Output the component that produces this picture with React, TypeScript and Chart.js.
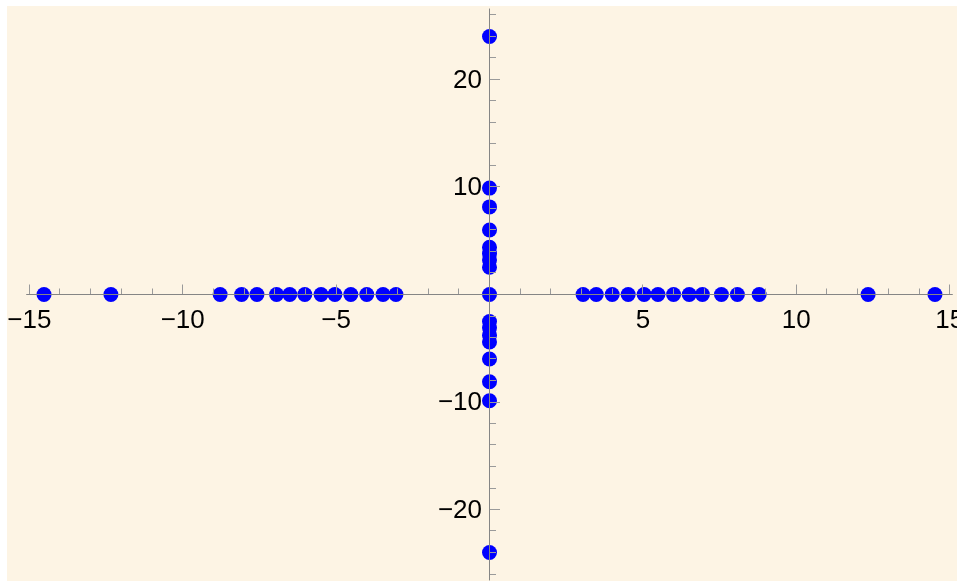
import React, { useEffect, useRef } from "react";
import { Chart, registerables } from "chart.js";

Chart.register(...registerables);

// ---- data ----
const xAxisRootsNeg = [-14.52, -12.34, -8.78, -8.08, -7.58, -6.94, -6.51, -6.02, -5.49, -5.04, -4.52, -4.0, -3.47, -3.05];
const xAxisRootsPos = [3.05, 3.48, 4.0, 4.52, 5.04, 5.49, 6.0, 6.51, 6.94, 7.56, 8.08, 8.79, 12.34, 14.52];
const yAxisRootsPos = [2.54, 3.2, 3.8, 4.4, 6.0, 8.15, 9.9, 24.0];
const yAxisRootsNeg = [-2.52, -3.1, -3.78, -4.42, -6.0, -8.12, -9.88, -24.0];
const originPoints = [0];

const xMajorTicks = [-15, -10, -5, 5, 10, 15];
const xMinorTicks = [-14, -13, -12, -11, -9, -8, -7, -6, -4, -3, -2, -1, 1, 2, 3, 4, 6, 7, 8, 9, 11, 12, 13, 14];
const yMajorTicks = [-20, -10, 10, 20];
const yMinorTicks = [-26, -24, -22, -18, -16, -14, -12, -8, -6, -4, -2, 2, 4, 6, 8, 12, 14, 16, 18, 22, 24, 26];

const X_MIN = -15.1;
const X_MAX = 15.1;
const Y_MIN = -26.6;
const Y_MAX = 26.6;

const BG = "#FDF4E4";
const AXIS_COLOR = "#858585";
const TICK_COLOR = "#9a9a9a";
const POINT_COLOR = "#0000FF";
const FONT = '26px "Liberation Sans", Arial, sans-serif';

const fmt = (v: number) => (v < 0 ? "\u2212" + String(Math.abs(v)) : String(v));
const crisp = (p: number) => Math.round(p - 0.5) + 0.5;

const backgroundPlugin = {
  id: "mmaBackground",
  beforeDraw(chart: any) {
    const { ctx, width, height } = chart;
    ctx.save();
    ctx.fillStyle = "#ffffff";
    ctx.fillRect(0, 0, width, height);
    ctx.fillStyle = BG;
    ctx.fillRect(7, 6, width - 7, height - 6);
    ctx.restore();
  },
};

const axesPlugin = {
  id: "mmaAxes",
  afterDatasetsDraw(chart: any) {
    const { ctx, chartArea } = chart;
    const xs = chart.scales.x;
    const ys = chart.scales.y;
    const x0 = crisp(xs.getPixelForValue(0));
    const y0 = crisp(ys.getPixelForValue(0));
    ctx.save();
    ctx.lineWidth = 1;
    ctx.strokeStyle = TICK_COLOR;
    ctx.beginPath();
    for (const v of xMinorTicks) {
      const p = crisp(xs.getPixelForValue(v));
      ctx.moveTo(p, y0);
      ctx.lineTo(p, y0 - 6);
    }
    for (const v of xMajorTicks) {
      const p = crisp(xs.getPixelForValue(v));
      ctx.moveTo(p, y0);
      ctx.lineTo(p, y0 - 10);
    }
    for (const v of yMinorTicks) {
      const p = crisp(ys.getPixelForValue(v));
      ctx.moveTo(x0, p);
      ctx.lineTo(x0 + 6.5, p);
    }
    for (const v of yMajorTicks) {
      const p = crisp(ys.getPixelForValue(v));
      ctx.moveTo(x0, p);
      ctx.lineTo(x0 + 10.5, p);
    }
    ctx.stroke();

    ctx.strokeStyle = AXIS_COLOR;
    ctx.beginPath();
    ctx.moveTo(chartArea.left, y0);
    ctx.lineTo(chartArea.right, y0);
    ctx.moveTo(x0, chartArea.top);
    ctx.lineTo(x0, chartArea.bottom);
    ctx.stroke();

    ctx.fillStyle = "#000000";
    ctx.font = FONT;
    ctx.textBaseline = "alphabetic";
    ctx.textAlign = "center";
    for (const v of xMajorTicks) {
      const p = xs.getPixelForValue(v);
      ctx.fillText(fmt(v), p, y0 + 33);
    }
    ctx.textAlign = "right";
    for (const v of yMajorTicks) {
      const p = ys.getPixelForValue(v);
      ctx.fillText(fmt(v), x0 - 7.5, p + 8);
    }
    ctx.restore();
  },
};

export default function App() {
  const ref = useRef<HTMLCanvasElement | null>(null);

  useEffect(() => {
    if (!ref.current) return;
    const points = [
      ...xAxisRootsNeg.map((x) => ({ x, y: 0 })),
      ...xAxisRootsPos.map((x) => ({ x, y: 0 })),
      ...yAxisRootsPos.map((y) => ({ x: 0, y })),
      ...yAxisRootsNeg.map((y) => ({ x: 0, y })),
      ...originPoints.map((v) => ({ x: v, y: v })),
    ];
    const chart = new Chart(ref.current, {
      type: "scatter",
      data: {
        datasets: [
          {
            data: points,
            backgroundColor: POINT_COLOR,
            borderColor: POINT_COLOR,
            borderWidth: 0,
            pointRadius: 7.5,
            pointHoverRadius: 7.5,
          },
        ],
      },
      options: {
        responsive: false,
        animation: false,
        devicePixelRatio: 1,
        events: [],
        layout: { autoPadding: false, padding: { left: 26.23, right: 4.23, top: 8.55, bottom: 0.55 } },
        plugins: { legend: { display: false }, tooltip: { enabled: false } },
        scales: {
          x: { type: "linear", min: X_MIN, max: X_MAX, display: false },
          y: { type: "linear", min: Y_MIN, max: Y_MAX, display: false },
        },
        clip: false as any,
      },
      plugins: [backgroundPlugin, axesPlugin],
    });
    return () => chart.destroy();
  }, []);

  return (
    <canvas
      ref={ref}
      width={957}
      height={581}
      style={{ position: "absolute", left: 0, top: 0, width: 957, height: 581, display: "block" }}
    />
  );
}
